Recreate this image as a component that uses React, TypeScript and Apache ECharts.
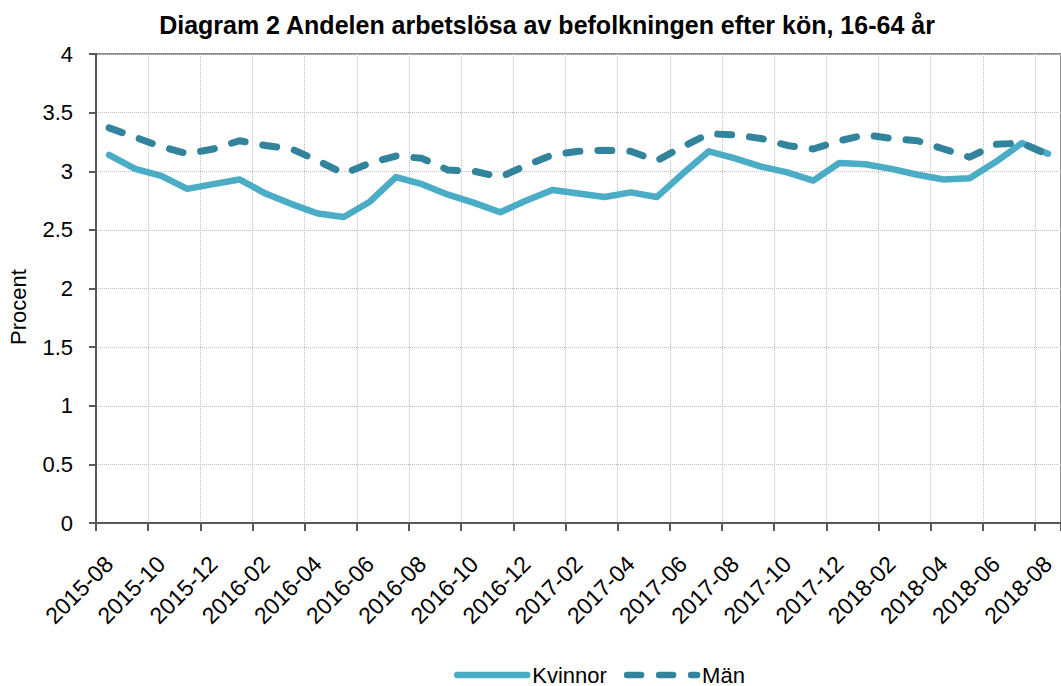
import React, { useEffect, useRef } from "react";
import * as echarts from "echarts";

const months = [
  "2015-08", "2015-09", "2015-10", "2015-11", "2015-12",
  "2016-01", "2016-02", "2016-03", "2016-04", "2016-05", "2016-06", "2016-07", "2016-08", "2016-09", "2016-10", "2016-11", "2016-12",
  "2017-01", "2017-02", "2017-03", "2017-04", "2017-05", "2017-06", "2017-07", "2017-08", "2017-09", "2017-10", "2017-11", "2017-12",
  "2018-01", "2018-02", "2018-03", "2018-04", "2018-05", "2018-06", "2018-07", "2018-08",
];

const kvinnor = [
  3.14, 3.02, 2.96, 2.85, 2.89, 2.93, 2.81, 2.72, 2.64, 2.61, 2.74, 2.95, 2.89,
  2.80, 2.73, 2.65, 2.75, 2.84, 2.81, 2.78, 2.82, 2.78, 2.98, 3.17, 3.11, 3.04,
  2.99, 2.92, 3.07, 3.06, 3.02, 2.97, 2.93, 2.94, 3.08, 3.24, 3.15,
];

const man = [
  3.37, 3.29, 3.21, 3.15, 3.19, 3.26, 3.22, 3.19, 3.09, 2.98, 3.07, 3.13, 3.11,
  3.01, 3.00, 2.95, 3.05, 3.14, 3.17, 3.18, 3.17, 3.09, 3.21, 3.32, 3.31, 3.28,
  3.22, 3.19, 3.26, 3.31, 3.28, 3.26, 3.19, 3.12, 3.23, 3.24, 3.14,
];

const titleText = "Diagram 2 Andelen arbetslösa av befolkningen efter kön, 16-64 år";
const yAxisTitle = "Procent";
const seriesNames = ["Kvinnor", "Män"];

const FONT = '"Liberation Sans", Arial, sans-serif';

export default function App() {
  const ref = useRef<HTMLDivElement>(null);
  useEffect(() => {
    if (!ref.current) return;
    const chart = echarts.init(ref.current, null, { renderer: "svg" });
    chart.setOption({
      animation: false,
      backgroundColor: "#ffffff",
      textStyle: { fontFamily: FONT },
      graphic: [
        {
          type: "text",
          x: 547,
          y: 25,
          style: {
            text: titleText,
            align: "center",
            verticalAlign: "middle",
            font: `bold 25px ${FONT}`,
            fill: "#000000",
          },
        },
        {
          type: "text",
          x: 18,
          y: 307,
          rotation: Math.PI / 2,
          style: {
            text: yAxisTitle,
            align: "center",
            verticalAlign: "middle",
            font: `22px ${FONT}`,
            fill: "#000000",
          },
        },
      ],
      legend: {
        data: seriesNames,
        left: 454,
        top: 664,
        padding: 0,
        itemWidth: 70,
        itemHeight: 14,
        itemGap: 17,
        itemStyle: { opacity: 0 },
        lineStyle: { width: 6.5 },
        textStyle: { fontSize: 22, lineHeight: 20, color: "#000000", fontFamily: FONT },
      },
      grid: {
        left: 96,
        top: 54,
        width: 968,
        height: 469,
        show: true,
        borderColor: "#8c8c8c",
        borderWidth: 2,
        backgroundColor: "transparent",
      },
      xAxis: {
        type: "category",
        data: months,
        boundaryGap: true,
        axisLine: { lineStyle: { color: "#595959", width: 2 } },
        axisTick: { show: true, interval: 1, length: 8, inside: false, lineStyle: { color: "#595959", width: 2 } },
        axisLabel: {
          interval: 1,
          rotate: 45,
          margin: 37,
          fontSize: 23,
          color: "#000000",
          fontFamily: FONT,
        },
        splitLine: { show: true, interval: 1, lineStyle: { color: "#bfbfbf", type: "dotted", width: 1 } },
      },
      yAxis: {
        type: "value",
        min: 0,
        max: 4,
        interval: 0.5,
        axisLine: { show: true, lineStyle: { color: "#595959", width: 2 } },
        axisTick: { show: true, length: 7, lineStyle: { color: "#595959", width: 2 } },
        axisLabel: { margin: 23, fontSize: 22, color: "#000000", fontFamily: FONT },
        splitLine: { show: true, lineStyle: { color: "#bfbfbf", type: "dotted", width: 1 } },
      },
      series: [
        {
          name: seriesNames[0],
          type: "line",
          data: kvinnor,
          symbol: "none",
          showSymbol: false,
          color: "#4bacc6",
          lineStyle: { color: "#4bacc6", width: 6.5, cap: "round", join: "round" },
          z: 2,
        },
        {
          name: seriesNames[1],
          type: "line",
          data: man,
          symbol: "none",
          showSymbol: false,
          color: "#31849b",
          lineStyle: { color: "#31849b", width: 7, type: [14, 18], cap: "round", join: "round" },
          z: 3,
        },
      ],
    });
    return () => chart.dispose();
  }, []);
  return (
    <div
      ref={ref}
      style={{ position: "fixed", left: 0, top: 0, width: 1061, height: 686 }}
    />
  );
}
